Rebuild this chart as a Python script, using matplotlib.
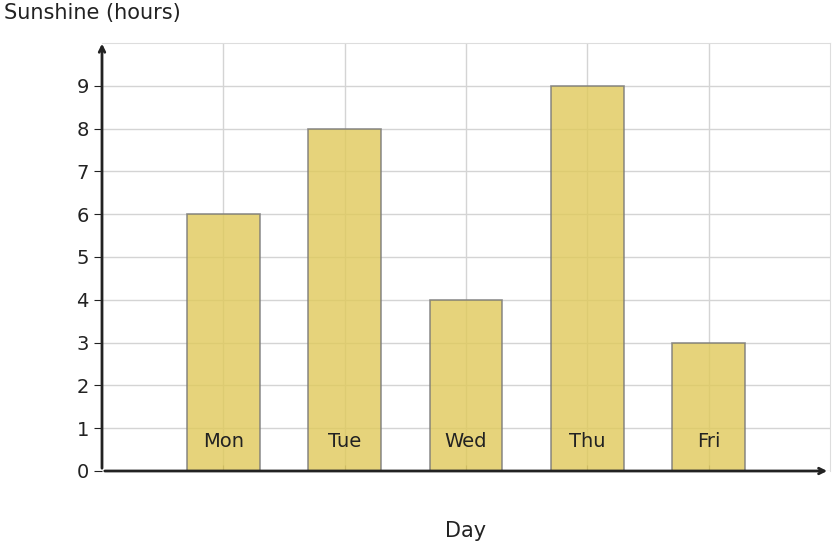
import matplotlib.pyplot as plt

days = ['Mon', 'Tue', 'Wed', 'Thu', 'Fri']
sunshine = [6, 8, 4, 9, 3]

fig = plt.figure(figsize=(8.34, 5.48), dpi=100)
ax = fig.add_axes([102/834, 77/548, 728/834, 428/548])

pos = list(range(1, len(days) + 1))
ax.bar(pos, sunshine, width=0.6, color='#e0c95a', alpha=0.8,
       edgecolor='#777777', linewidth=1.2, zorder=2)
for p, d in zip(pos, days):
    ax.text(p, 0.68, d, ha='center', va='center', fontsize=14, color='#222222', zorder=3)

ax.set_xlim(0, 6)
ax.set_ylim(0, 10)
ax.set_xticks(pos)
ax.set_xticklabels([])
ax.set_yticks(range(0, 10))
ax.tick_params(axis='y', labelsize=14, colors='#222222', length=6)
ax.tick_params(axis='x', length=4, color='#888888', direction='in')
ax.grid(True, color='#d4d4d4', linewidth=1, zorder=0)
ax.set_axisbelow(True)
for s in ['top', 'right']:
    ax.spines[s].set_color('#dddddd')
for s in ['left', 'bottom']:
    ax.spines[s].set_visible(False)

ax.annotate('', xy=(0, 10.05), xytext=(0, 0), xycoords='data',
            arrowprops=dict(arrowstyle='->', color='#222222', lw=2), annotation_clip=False)
ax.annotate('', xy=(6.0, 0), xytext=(0, 0), xycoords='data',
            arrowprops=dict(arrowstyle='->', color='#222222', lw=2), annotation_clip=False)

fig.text(4/834, 1 - 13/548, 'Sunshine (hours)', fontsize=15, color='#222222', va='center')
fig.text(466/834, 1 - 531/548, 'Day', fontsize=15, color='#222222', ha='center', va='center')

fig.savefig('out.png', dpi=100)
